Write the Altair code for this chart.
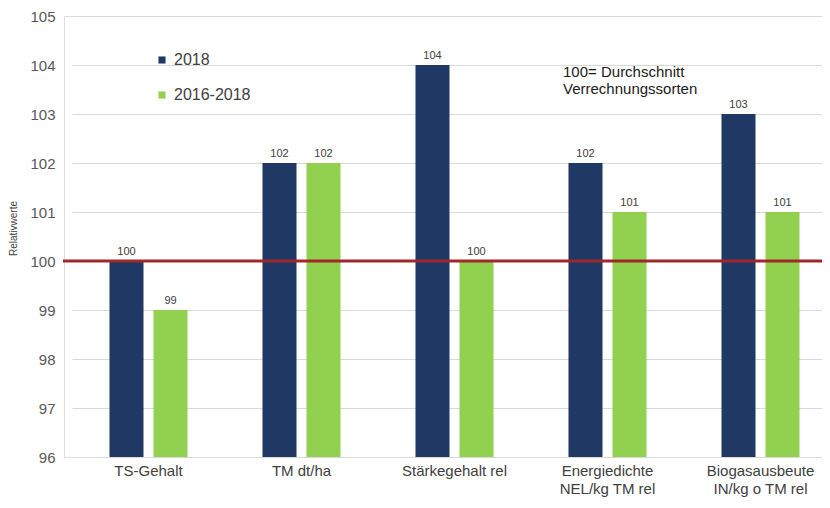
import altair as alt
import pandas as pd

categories = ["TS-Gehalt", "TM dt/ha", "Stärkegehalt rel",
              "Energiedichte\nNEL/kg TM rel", "Biogasausbeute\nIN/kg o TM rel"]
series = ["2018", "2016-2018"]
values_2018 = [100, 102, 104, 102, 103]
values_1618 = [99, 102, 100, 101, 101]
y_ticks = [96, 97, 98, 99, 100, 101, 102, 103, 104, 105]
reference_value = [100]
note_lines = ["100= Durchschnitt", "Verrechnungssorten"]

rows = []
for c, v in zip(categories, values_2018):
    rows.append({"cat": c, "series": "2018", "value": v})
for c, v in zip(categories, values_1618):
    rows.append({"cat": c, "series": "2016-2018", "value": v})
df = pd.DataFrame(rows)

FONT = "Liberation Sans"
W, H = 758, 441

xscale = alt.Scale(domain=categories, range=[8, 773], paddingInner=0.49, paddingOuter=0.245)
yscale = alt.Scale(domain=[96, 105], zero=False, nice=False)

x_enc = alt.X("cat:N", scale=xscale, sort=categories, title=None,
              axis=alt.Axis(labelAngle=0, labelExpr="split(datum.label, '\\n')",
                            labelFont=FONT, labelFontSize=15, labelColor="#404040",
                            labelPadding=6, labelLineHeight=18, ticks=False, domain=False))
xo_enc = alt.XOffset("series:N", sort=series,
                     scale=alt.Scale(domain=series, paddingInner=0.227, paddingOuter=0))
y_enc = alt.Y("value:Q", scale=yscale,
              axis=alt.Axis(values=y_ticks, title="Relativwerte", titleFont=FONT,
                            titleFontSize=10, titleFontWeight="normal", titleColor="#404040",
                            titleAngle=270, titleX=-51, titleY=212, titleAlign="center",
                            titleBaseline="middle",
                            labelFont=FONT, labelFontSize=15, labelColor="#595959",
                            labelPadding=9, ticks=False, domain=False,
                            grid=True, gridColor="#d9d9d9", gridWidth=1))

color_enc = alt.Color("series:N", sort=series,
                      scale=alt.Scale(domain=series, range=["#1F3864", "#92D050"]),
                      legend=alt.Legend(title=None, orient="none", legendX=90, legendY=36,
                                        symbolType="square", symbolSize=50, symbolStrokeWidth=0,
                                        labelFont=FONT, labelFontSize=16, labelColor="#404040",
                                        rowPadding=19, labelOffset=4))

bars = alt.Chart(df).mark_bar().encode(
    x=x_enc, xOffset=xo_enc, y=y_enc, y2=alt.datum(96), color=color_enc
)

labels = alt.Chart(df).mark_text(baseline="bottom", dy=-4, font=FONT, fontSize=11,
                                 color="#404040").encode(
    x=alt.X("cat:N", scale=xscale, sort=categories),
    xOffset=xo_enc,
    y=alt.Y("value:Q", scale=yscale, axis=None),
    text=alt.Text("value:Q"),
)

ref_df = pd.DataFrame({"y": reference_value})
rule = alt.Chart(ref_df).mark_rule(color="#A0282B", strokeWidth=3).encode(
    y=alt.Y("y:Q", scale=yscale, axis=None), x=alt.value(-1), x2=alt.value(773)
)

note_df = pd.DataFrame({"t": note_lines, "i": [0, 1]})
note = alt.Chart(note_df).mark_text(align="left", baseline="middle", font=FONT,
                                    fontSize=15, color="#1a1a1a").encode(
    x=alt.value(499),
    y=alt.Y("i:Q", scale=alt.Scale(domain=[0, 1], range=[56, 73]), axis=None),
    text="t:N",
)

chart = alt.layer(bars, labels, rule, note).resolve_scale(y="independent").properties(
    width=W, height=H,
    autosize=alt.AutoSizeParams(type="none"),
    padding={"left": 56, "top": 8, "right": 0, "bottom": 43},
).configure_view(stroke=None).configure(background="white")

chart.save("out.html", embed_options={"renderer": "svg", "actions": False})
